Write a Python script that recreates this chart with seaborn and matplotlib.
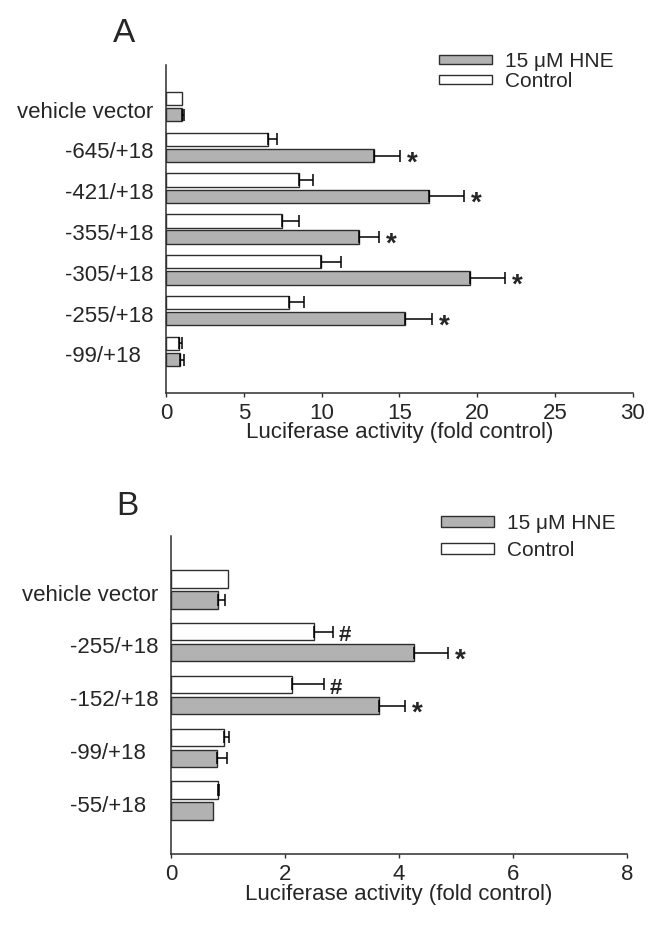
import numpy as np
import pandas as pd
import seaborn as sns
import matplotlib
matplotlib.use('Agg')
import matplotlib.pyplot as plt
from matplotlib.patches import Patch
from matplotlib.transforms import ScaledTranslation

# ---- data ----
treatments = ['Control', '15 \u03bcM HNE']

constructs_a = ['vehicle vector', '-645/+18', '-421/+18', '-355/+18',
                '-305/+18', '-255/+18', '-99/+18  ']
ctrl_a = [1.0, 6.58, 8.55, 7.46, 9.94, 7.90, 0.86]
ctrl_a_err = [0.0, 0.57, 0.88, 1.09, 1.31, 0.95, 0.17]
hne_a = [1.0, 13.37, 16.92, 12.43, 19.50, 15.36, 0.92]
hne_a_err = [0.16, 1.67, 2.23, 1.28, 2.30, 1.74, 0.24]
ctrl_a_sig = ['', '', '', '', '', '', '']
hne_a_sig = ['', '*', '*', '*', '*', '*', '']

constructs_b = ['vehicle vector', '-255/+18', '-152/+18', '-99/+18  ', '-55/+18  ']
ctrl_b = [1.0, 2.51, 2.13, 0.93, 0.83]
ctrl_b_err = [0.0, 0.33, 0.56, 0.08, 0.02]
hne_b = [0.82, 4.27, 3.65, 0.81, 0.73]
hne_b_err = [0.12, 0.60, 0.45, 0.17, 0.0]
ctrl_b_sig = ['', '#', '#', '', '']
hne_b_sig = ['', '*', '*', '', '']

# ---- style ----
sns.set_style('ticks')
plt.rcParams['font.family'] = ['Liberation Sans', 'DejaVu Sans']
FS = 16
GRAY = '#b2b2b2'
EDGE = '#2e2e2e'
colors = {'Control': 'white', '15 \u03bcM HNE': GRAY}


def make_df(constructs, ctrl, ctrl_err, hne, hne_err, ctrl_sig, hne_sig):
    rows = []
    for i, c in enumerate(constructs):
        rows.append((c, 'Control', ctrl[i], ctrl_err[i], ctrl_sig[i]))
        rows.append((c, treatments[1], hne[i], hne_err[i], hne_sig[i]))
    return pd.DataFrame(rows, columns=['construct', 'treatment', 'value', 'err', 'sig'])


def panel(ax, df, constructs, xmax, xstep, handleheight, spacing, legend_anchor):
    sns.barplot(data=df, y='construct', x='value', hue='treatment',
                order=constructs, hue_order=treatments, orient='h',
                palette=colors, width=0.8, gap=0.18, errorbar=None,
                edgecolor=EDGE, linewidth=1.0, legend=False, ax=ax)

    # one-sided error bars and markers, placed on the drawn bars
    bars = [p for p in ax.patches]
    k = 0
    for t in treatments:
        sub = df[df['treatment'] == t].set_index('construct').loc[constructs]
        for c in constructs:
            p = bars[k]
            k += 1
            yc = p.get_y() + p.get_height() / 2
            val = sub.loc[c, 'value']
            err = sub.loc[c, 'err']
            if err > 0:
                ax.errorbar(val, yc, xerr=[[0], [err]], fmt='none',
                            ecolor='black', elinewidth=1.1, capsize=4.3,
                            capthick=1.1)
            s = sub.loc[c, 'sig']
            if s == '*':
                ax.annotate(s, xy=(val + err, yc), xytext=(5, -10.5),
                            textcoords='offset points', ha='left',
                            va='baseline', fontsize=20, fontweight='bold')
            elif s == '#':
                ax.annotate(s, xy=(val + err, yc), xytext=(4, -7),
                            textcoords='offset points', ha='left',
                            va='baseline', fontsize=FS, fontweight='bold')

    ax.set_xlim(0, xmax)
    ax.set_ylim(len(constructs) - 1 + 1.02, -1.02)
    ax.set_xticks(np.arange(0, xmax + 0.01, xstep))
    ax.set_xlabel('Luciferase activity (fold control)', fontsize=FS, labelpad=-1)
    ax.set_ylabel('')
    ax.tick_params(axis='x', labelsize=FS, length=3, width=1.0, direction='out',
                   pad=4, color=EDGE)
    ax.tick_params(axis='y', labelsize=FS, length=0, pad=9)
    shift = ScaledTranslation(0, -3 / 100, fig.dpi_scale_trans)
    for lab in ax.get_yticklabels():
        lab.set_transform(lab.get_transform() + shift)
    for sp in ['top', 'right']:
        ax.spines[sp].set_visible(False)
    for sp in ['left', 'bottom']:
        ax.spines[sp].set_linewidth(1.1)
        ax.spines[sp].set_color(EDGE)

    handles = [Patch(facecolor=GRAY, edgecolor=EDGE, linewidth=1.0),
               Patch(facecolor='white', edgecolor=EDGE, linewidth=1.0)]
    ax.legend(handles, [treatments[1], 'Control'], loc='upper left',
              bbox_to_anchor=legend_anchor, bbox_transform=fig.transFigure,
              frameon=False, fontsize=15, handlelength=2.55,
              handleheight=handleheight, handletextpad=0.6,
              labelspacing=spacing, borderpad=0, borderaxespad=0)


fig = plt.figure(figsize=(6.59, 9.38), dpi=100)
ax_a = fig.add_axes([0.2519, 0.5810, 0.7086, 0.3497])
ax_b = fig.add_axes([0.2595, 0.0892, 0.6915, 0.3397])

df_a = make_df(constructs_a, ctrl_a, ctrl_a_err, hne_a, hne_a_err, ctrl_a_sig, hne_a_sig)
df_b = make_df(constructs_b, ctrl_b, ctrl_b_err, hne_b, hne_b_err, ctrl_b_sig, hne_b_sig)

panel(ax_a, df_a, constructs_a, 30, 5, 0.32, 0.05, (439 / 659, 1 - 52 / 938))
panel(ax_b, df_b, constructs_b, 8, 2, 0.47, 0.38, (441 / 659, 1 - 514 / 938))

fig.text(124 / 659, 1 - 34 / 938, 'A', fontsize=24, ha='center', va='center')
fig.text(127 / 659, 1 - 506 / 938, 'B', fontsize=24, ha='center', va='center')

fig.savefig('out.png', dpi=100)
